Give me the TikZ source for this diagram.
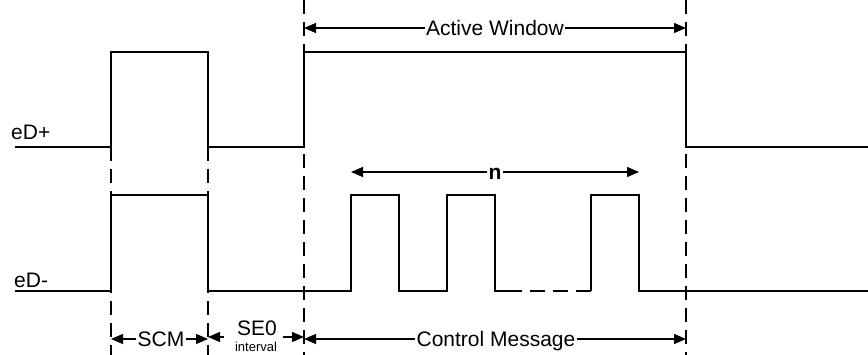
\documentclass[tikz,border=0pt]{standalone}
\usepackage{fontspec}
\setmainfont{Liberation Sans}
\usetikzlibrary{arrows.meta}
\begin{document}
\begin{tikzpicture}[x=1pt,y=-1pt,
  signal/.style={line width=1.8pt, line join=miter},
  guide/.style={line width=1.6pt, dash pattern=on 14pt off 8pt},
  dim/.style={line width=1.3pt, -{Triangle[length=12pt,width=10pt]}},
  lbl/.style={font=\fontsize{21}{24}\selectfont, inner sep=1pt,
              text height=15pt, text depth=0pt},
  small/.style={font=\fontsize{13}{15}\selectfont, inner sep=0pt},
]
\useasboundingbox (0,0) rectangle (868,355);

% timing guides
\draw[guide] (111,147) -- (111,360);
\draw[guide] (208,147) -- (208,360);
\draw[guide] (304,0) -- (304,360);
\draw[guide] (686,0) -- (686,360);

% eD+ waveform
\draw[signal] (15,147) -- (111,147) -- (111,52) -- (208,52) -- (208,147)
  -- (304,147) -- (304,52) -- (686,52) -- (686,147) -- (868,147);
% eD- waveform
\draw[signal] (15,291) -- (111,291) -- (111,195) -- (208,195) -- (208,291)
  -- (351,291) -- (351,195) -- (399,195) -- (399,291)
  -- (447,291) -- (447,195) -- (495,195) -- (495,291) -- (522,291);
\draw[signal, dash pattern=on 15pt off 8pt] (530,291) -- (591,291);
\draw[signal] (591,291) -- (591,195) -- (639,195) -- (639,291) -- (868,291);

% signal names
\node[anchor=base west, inner sep=0pt, font=\fontsize{21}{24}\selectfont] (dp) at (11,140) {eD+};
\node[anchor=base west, inner sep=0pt, font=\fontsize{21}{24}\selectfont] (dm) at (14,288) {eD-};

% Active Window span
\coordinate (awL) at (304,28);
\coordinate (awR) at (686,28);
\node[lbl] (aw) at (495,28) {Active Window};
\draw[dim] (aw) -- (awL);
\draw[dim] (aw) -- (awR);

% pulse count span
\coordinate (nL) at (351,172);
\coordinate (nR) at (639,172);
\node[lbl, font=\fontsize{21}{24}\selectfont\bfseries] (n) at (495,172) {n};
\draw[dim] (n) -- (nL);
\draw[dim] (n) -- (nR);

% SCM span
\coordinate (scmL) at (111,339);
\coordinate (scmR) at (208,339);
\node[lbl] (scm) at (161,339) {SCM};
\draw[dim] (scm) -- (scmL);
\draw[dim] (scm) -- (scmR);

% SE0 interval span
\node[lbl] (se0) at (257,328) {SE0};
\node[small, anchor=base] (intv) at (256,352) {interval};
\coordinate (seA) at (224,337);
\coordinate (seB) at (283,337);
\coordinate (seL) at (208,337);
\coordinate (seR) at (304,337);
\draw[dim] (seA) -- (seL);
\draw[dim] (seB) -- (seR);

% Control Message span
\coordinate (cmL) at (304,339);
\coordinate (cmR) at (686,339);
\node[lbl] (cm) at (496,339) {Control Message};
\draw[dim] (cm) -- (cmL);
\draw[dim] (cm) -- (cmR);
\end{tikzpicture}
\end{document}
